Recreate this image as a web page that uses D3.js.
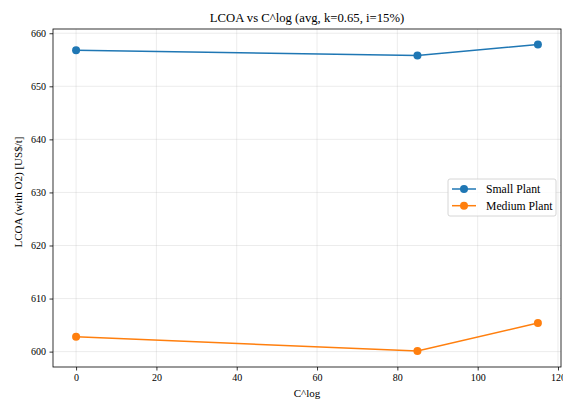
<!DOCTYPE html>
<html>
<head>
<meta charset="utf-8">
<script src="https://cdn.jsdelivr.net/npm/d3@7"></script>
<style>
  body { margin: 0; background: #fff; }
  svg { display: block; font-family: "Liberation Serif", "DejaVu Serif", serif; }
</style>
</head>
<body>
<div class="chart"></div>
<script>
// data
const cLog = [0, 85, 115];
const smallPlant = [656.8, 655.8, 657.9];
const mediumPlant = [602.8, 600.1, 605.4];
const seriesNames = ["Small Plant", "Medium Plant"];
const seriesColors = ["#1f77b4", "#ff7f0e"];
const xTicks = [0, 20, 40, 60, 80, 100, 120];
const yTicks = [600, 610, 620, 630, 640, 650, 660];

const W = 563, H = 403;
const margin = { top: 29, right: 2, bottom: 36, left: 53 };

const svg = d3.select(".chart").append("svg")
  .attr("width", W).attr("height", H);

const x = d3.scaleLinear().domain([-5.75, 120.75]).range([margin.left, W - margin.right]);
const y = d3.scaleLinear().domain([597.1, 660.8]).range([H - margin.bottom, margin.top]);

// grid
svg.append("g").selectAll("line.vg")
  .data(xTicks.filter(t => x(t) < W - margin.right))
  .enter().append("line")
  .attr("x1", d => x(d)).attr("x2", d => x(d))
  .attr("y1", margin.top).attr("y2", H - margin.bottom)
  .attr("stroke", "#b0b0b0").attr("stroke-opacity", 0.3).attr("stroke-width", 0.8);
svg.append("g").selectAll("line.hg")
  .data(yTicks)
  .enter().append("line")
  .attr("y1", d => y(d)).attr("y2", d => y(d))
  .attr("x1", margin.left).attr("x2", W - margin.right)
  .attr("stroke", "#b0b0b0").attr("stroke-opacity", 0.3).attr("stroke-width", 0.8);

// axes
const xAxis = d3.axisBottom(x).tickValues(xTicks).tickSize(3.5).tickPadding(3.5).tickSizeOuter(0);
const yAxis = d3.axisLeft(y).tickValues(yTicks).tickSize(3.5).tickPadding(3.5).tickSizeOuter(0);

const gx = svg.append("g").attr("transform", "translate(0," + (H - margin.bottom) + ")").call(xAxis);
const gy = svg.append("g").attr("transform", "translate(" + margin.left + ",0)").call(yAxis);
[gx, gy].forEach(g => {
  g.select(".domain").remove();
  g.selectAll("text").attr("font-size", 10).attr("fill", "#000")
    .attr("font-family", "Liberation Serif, serif");
  g.selectAll("line").attr("stroke", "#000").attr("stroke-width", 0.8);
});

// frame
svg.append("rect")
  .attr("x", margin.left).attr("y", margin.top)
  .attr("width", W - margin.right - margin.left)
  .attr("height", H - margin.bottom - margin.top)
  .attr("fill", "none").attr("stroke", "#000").attr("stroke-width", 0.8);

// series
const line = d3.line().x(d => x(d[0])).y(d => y(d[1]));
[smallPlant, mediumPlant].forEach((vals, i) => {
  const pts = cLog.map((c, j) => [c, vals[j]]);
  svg.append("path").datum(pts)
    .attr("d", line).attr("fill", "none")
    .attr("stroke", seriesColors[i]).attr("stroke-width", 1.5);
  svg.append("g").selectAll("circle").data(pts).enter().append("circle")
    .attr("cx", d => x(d[0])).attr("cy", d => y(d[1])).attr("r", 4)
    .attr("fill", seriesColors[i]);
});

// title and labels
svg.append("text").attr("x", (margin.left + W - margin.right) / 2).attr("y", 22)
  .attr("text-anchor", "middle").attr("font-size", 12.7).text("LCOA vs C^log (avg, k=0.65, i=15%)");
svg.append("text").attr("x", (margin.left + W - margin.right) / 2).attr("y", 397)
  .attr("text-anchor", "middle").attr("font-size", 11).text("C^log");
svg.append("text")
  .attr("transform", "translate(22,192) rotate(-90)")
  .attr("text-anchor", "middle").attr("font-size", 11).text("LCOA (with O2) [US$/t]");

// legend
const lg = svg.append("g").attr("transform", "translate(448,179)");
lg.append("rect").attr("width", 108).attr("height", 37).attr("rx", 2)
  .attr("fill", "#fff").attr("fill-opacity", 0.8)
  .attr("stroke", "#ccc").attr("stroke-width", 0.8);
seriesNames.forEach((name, i) => {
  const ly = 10 + i * 16.7;
  lg.append("line").attr("x1", 4).attr("x2", 28).attr("y1", ly).attr("y2", ly)
    .attr("stroke", seriesColors[i]).attr("stroke-width", 1.5);
  lg.append("circle").attr("cx", 16).attr("cy", ly).attr("r", 4).attr("fill", seriesColors[i]);
  lg.append("text").attr("x", 38).attr("y", ly + 4).attr("font-size", 11.7).text(name);
});
</script>
</body>
</html>
